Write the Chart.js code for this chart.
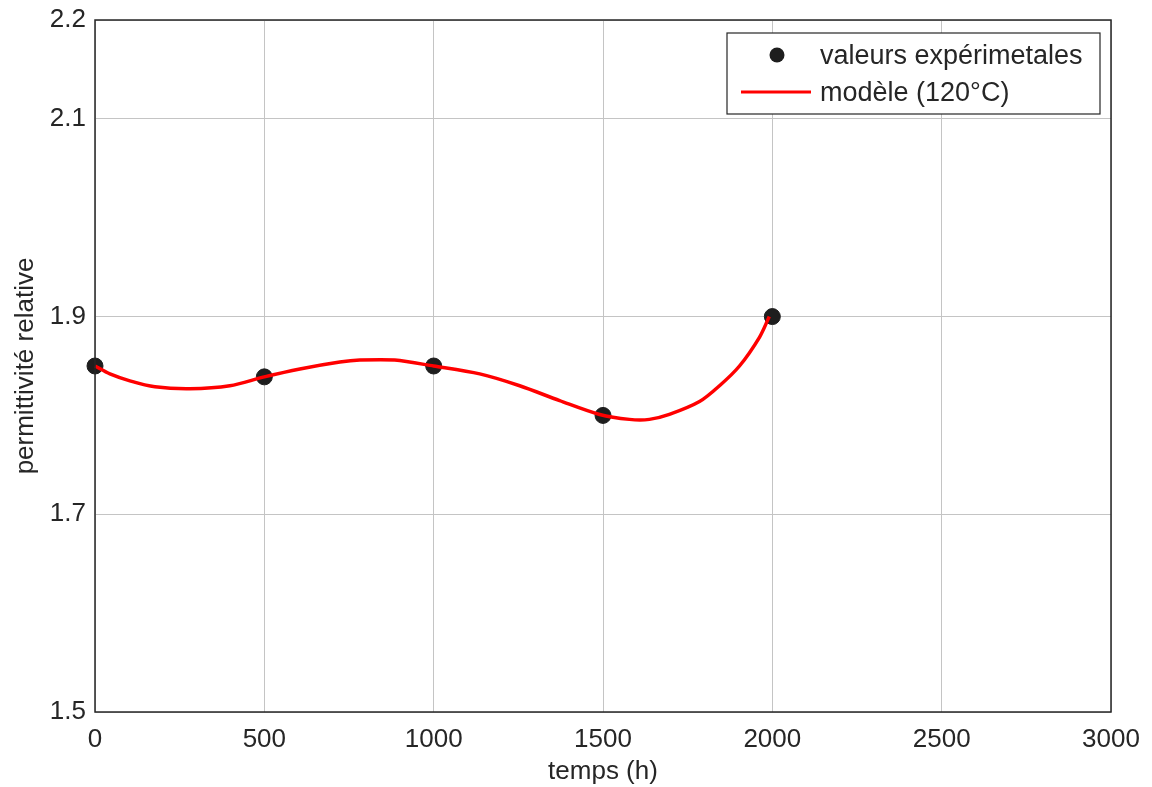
<!DOCTYPE html>
<html>
<head>
<meta charset="utf-8">
<script src="https://cdn.jsdelivr.net/npm/chart.js@4"></script>
<style>
  html, body { margin: 0; padding: 0; background: #fff; }
  #wrap { width: 1152px; height: 787px; }
</style>
</head>
<body>
<div id="wrap"><canvas id="chart" width="1152" height="787"></canvas></div>
<script>
// Experimental points
const expTimes = [0, 500, 1000, 1500, 2000];
const expValues = [1.85, 1.839, 1.85, 1.80, 1.90];

// Model curve (120°C)
const modelTimes = [0, 44, 103, 177, 280, 398, 500, 605, 723, 782, 885, 1000, 1136, 1254, 1372, 1490, 1578, 1637, 1696, 1785, 1844, 1903, 1962, 1991];
const modelValues = [1.85, 1.842, 1.835, 1.829, 1.827, 1.830, 1.839, 1.847, 1.854, 1.856, 1.856, 1.85, 1.842, 1.830, 1.815, 1.801, 1.796, 1.796, 1.801, 1.814, 1.830, 1.850, 1.879, 1.90];

const yTicks = [1.5, 1.7, 1.9, 2.1, 2.2];

const textColor = '#262626';
const fontFamily = '"Liberation Sans", Arial, sans-serif';

// Frame around the plot area plus the legend box
const framePlugin = {
    id: 'frame',
    afterDraw(chart) {
        const ctx = chart.ctx;
        const a = chart.chartArea;
        ctx.save();
        ctx.strokeStyle = textColor;
        ctx.lineWidth = 1.5;
        ctx.strokeRect(a.left, a.top, a.right - a.left, a.bottom - a.top);

        // legend
        const lx = a.right - 384, ly = a.top + 13, lw = 373, lh = 81;
        ctx.fillStyle = '#fff';
        ctx.fillRect(lx, ly, lw, lh);
        ctx.lineWidth = 1.2;
        ctx.strokeRect(lx, ly, lw, lh);
        ctx.fillStyle = '#1e1e1e';
        ctx.beginPath();
        ctx.arc(lx + 50, ly + 22, 7.5, 0, Math.PI * 2);
        ctx.fill();
        ctx.strokeStyle = '#ff0000';
        ctx.lineWidth = 3;
        ctx.beginPath();
        ctx.moveTo(lx + 14, ly + 59);
        ctx.lineTo(lx + 84, ly + 59);
        ctx.stroke();
        ctx.fillStyle = textColor;
        ctx.font = '27px ' + fontFamily;
        ctx.textBaseline = 'middle';
        ctx.fillText('valeurs expérimetales', lx + 93, ly + 24);
        ctx.fillText('modèle (120°C)', lx + 93, ly + 61);
        ctx.restore();
    }
};

const ctx = document.getElementById('chart').getContext('2d');
const chart = new Chart(ctx, {
    type: 'scatter',
    data: {
        datasets: [
            {
                label: 'valeurs expérimetales',
                data: expTimes.map((t, i) => ({ x: t, y: expValues[i] })),
                backgroundColor: '#1e1e1e',
                borderColor: '#1e1e1e',
                pointRadius: 8,
                showLine: false,
                clip: false,
                order: 2
            },
            {
                label: 'modèle (120°C)',
                data: modelTimes.map((t, i) => ({ x: t, y: modelValues[i] })),
                borderColor: '#ff0000',
                backgroundColor: '#ff0000',
                borderWidth: 3.5,
                pointRadius: 0,
                showLine: true,
                tension: 0.3,
                clip: false,
                order: 1
            }
        ]
    },
    options: {
        responsive: false,
        animation: false,
        layout: { padding: { top: 20, right: 41, left: 0, bottom: 0 } },
        plugins: {
            legend: { display: false },
            tooltip: { enabled: false }
        },
        scales: {
            x: {
                type: 'linear',
                min: 0,
                max: 3000,
                ticks: {
                    stepSize: 500,
                    color: textColor,
                    padding: 12,
                    font: { family: fontFamily, size: 26 },
                    callback: v => String(v)
                },
                grid: { color: '#c4c4c4', lineWidth: 1, drawTicks: false },
                border: { display: false },
                title: {
                    display: true,
                    text: 'temps (h)',
                    color: textColor,
                    padding: { top: -1, bottom: 0 },
                    font: { family: fontFamily, size: 26 }
                },
                afterFit(scale) {
                    scale.height = 75;
                    scale.paddingLeft = 0;
                    scale.paddingRight = 0;
                }
            },
            y: {
                min: 1.5,
                max: 2.2,
                afterBuildTicks(scale) {
                    scale.ticks = yTicks.map(v => ({ value: v }));
                },
                ticks: {
                    color: textColor,
                    padding: 9,
                    font: { family: fontFamily, size: 26 },
                    callback: v => v.toFixed(1)
                },
                grid: { color: '#c4c4c4', lineWidth: 1, drawTicks: false },
                border: { display: false },
                title: {
                    display: true,
                    text: 'permittivité relative',
                    color: textColor,
                    padding: { top: 10, bottom: 0 },
                    font: { family: fontFamily, size: 26 }
                },
                afterFit(scale) {
                    scale.width = 95;
                    scale.paddingTop = 0;
                    scale.paddingBottom = 0;
                }
            }
        }
    },
    plugins: [framePlugin]
});
</script>
</body>
</html>
